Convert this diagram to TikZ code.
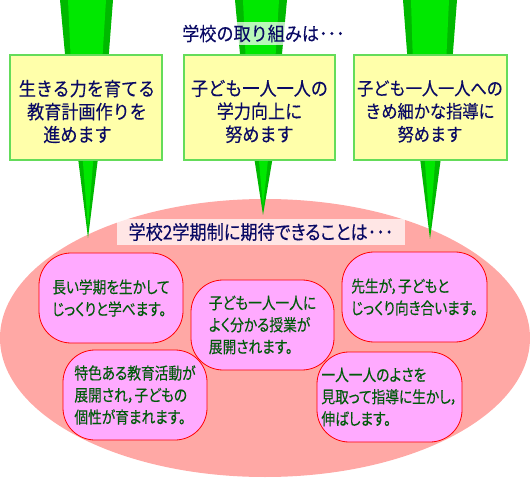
\documentclass[tikz,border=0pt]{standalone}
\usepackage{fontspec}
\newfontfamily\jp[FakeStretch=0.9,FakeBold=0.3]{Noto Sans CJK JP}
\newfontfamily\jpprop[RawFeature=+palt,FakeStretch=0.83,FakeBold=0.2]{Noto Sans CJK JP}
\newfontfamily\jpsub[RawFeature=+palt,FakeStretch=0.88,FakeBold=0.3]{Noto Sans CJK JP}
\definecolor{navy}{RGB}{10,10,100}
\definecolor{pindark}{RGB}{0,185,0}
\definecolor{pinlight}{RGB}{0,232,0}
\definecolor{boxfill}{RGB}{255,255,170}
\definecolor{boxline}{RGB}{100,220,90}
\definecolor{salmon}{RGB}{255,168,165}
\definecolor{bubblefill}{RGB}{255,170,255}
\definecolor{leafgreen}{RGB}{0,90,10}
\begin{document}
\begin{tikzpicture}[x=1pt,y=-1pt,
  pinout/.style={fill=pindark, draw=none},
  pinin/.style={fill=pinlight, draw=none},
  aimbox/.style={draw=boxline, line width=1.2pt, fill=boxfill, minimum height=105pt, inner sep=0pt},
  aimtext/.style={align=center, font=\jp\fontsize{19}{23}\selectfont, text=navy, inner sep=0pt},
  hdr/.style={fill=white, fill opacity=0.72, text opacity=1, text=navy, font=\jp\fontsize{19}{20}\selectfont, inner xsep=3pt, inner ysep=2pt},
  bubble/.style={draw=red, line width=0.8pt, fill=bubblefill, rounded corners=32pt, minimum width=144pt, minimum height=90pt, align=left, text=leafgreen, font=\jpprop\fontsize{16.5}{22}\selectfont, inner sep=0pt},
]
\useasboundingbox (0,0) rectangle (530,478);
% big ellipse
\fill[salmon] (265pt,-338pt) ellipse [x radius=265pt, y radius=139pt];
% pins: left
\fill[pinout] (60,0) -- (113,0) -- (108,65) -- (66,65) -- cycle;
\fill[pinin] (68,0) -- (106,0) -- (102,65) -- (71,65) -- cycle;
\fill[pinout] (77,150) -- (99,150) -- (88,238) -- cycle;
\fill[pinin] (82,150) -- (94,150) -- (88,228) -- cycle;
% pins: middle
\fill[pinout] (235,0) -- (287,0) -- (281,65) -- (241,65) -- cycle;
\fill[pinin] (243,0) -- (279,0) -- (275,65) -- (246,65) -- cycle;
\fill[pinout] (253,150) -- (274,150) -- (263,215) -- cycle;
\fill[pinin] (258,150) -- (269,150) -- (263,207) -- cycle;
% pins: right
\fill[pinout] (403,0) -- (457,0) -- (452,65) -- (408,65) -- cycle;
\fill[pinin] (411,0) -- (449,0) -- (446,65) -- (413,65) -- cycle;
\fill[pinout] (419,150) -- (442,150) -- (430,239) -- cycle;
\fill[pinin] (424,150) -- (436,150) -- (430,229) -- cycle;
% boxes
\node[aimbox, minimum width=152pt] (aim1) at (86,107.5) {};
\node[aimbox, minimum width=151pt] (aim2) at (259.5,107.5) {};
\node[aimbox, minimum width=153pt] (aim3) at (430.5,107.5) {};
\node[aimtext] (aim1t) at (87,111.5) {生きる力を育てる\\教育計画作りを\\進めます\hspace*{1em}};
\node[aimtext] (aim2t) at (259.5,111.5) {子ども一人一人の\\学力向上に\\努めます};
\node[aimtext, font=\jp\fontsize{18}{23}\selectfont] (aim3t) at (430,111.5) {子ども一人一人への\\きめ細かな指導に\\努めます};
% headers
\node[hdr, minimum width=167pt, minimum height=23pt] (title) at (263.5,33.5) {学校の取り組みは･･･};
\node[hdr, minimum width=288pt, minimum height=26pt, font=\jpsub\fontsize{19.5}{20}\selectfont] (subtitle) at (261,232) {学校2学期制に期待できることは･･･};
% bubbles
\node[bubble] (b1) at (111,298) {長い学期を生かして\\じっくりと学べます。};
\node[bubble, minimum width=143pt] (b2) at (262.5,325) {子ども一人一人に\\よく分かる授業が\\展開されます。};
\node[bubble, minimum width=145pt] (b3) at (414.5,297) {先生が，子どもと\\じっくり向き合います。};
\node[bubble] (b4) at (135,395) {特色ある教育活動が\\展開され，子どもの\\個性が育まれます。};
\node[bubble, minimum width=145pt] (b5) at (389.5,397) {一人一人のよさを\\見取って指導に生かし，\\伸ばします。};
\end{tikzpicture}
\end{document}
